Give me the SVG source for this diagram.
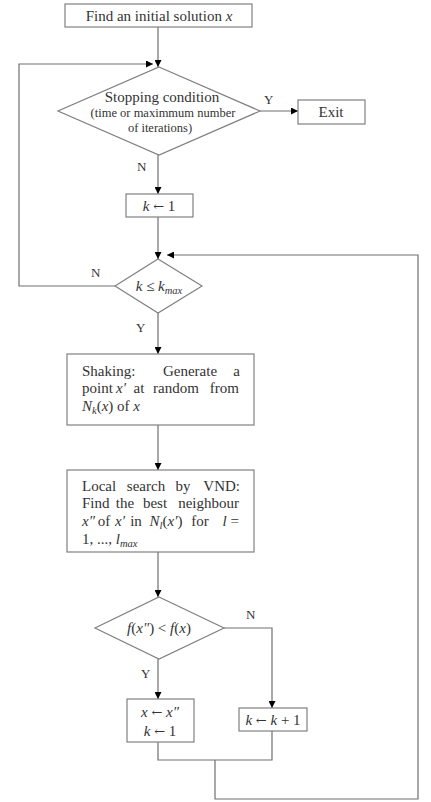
<svg xmlns="http://www.w3.org/2000/svg" width="431" height="802" viewBox="0 0 431 802">
<style>
.box{fill:#fff;stroke:#808080;stroke-width:1.2}
.ln{fill:none;stroke:#707070;stroke-width:1.2}
text{font-family:"Liberation Serif","DejaVu Serif",serif;fill:#333;font-size:15px}
.c{text-anchor:middle}
.e{text-anchor:end}
.s{font-size:12.5px}
.m{font-style:italic}
.lb{font-size:13px}
.sub{font-style:italic;font-size:10.5px}
.ar{font-family:"DejaVu Serif",serif;font-size:13px}
</style>
<defs>
<marker id="ah" viewBox="0 0 10 10" refX="10" refY="5" markerWidth="9" markerHeight="7" markerUnits="userSpaceOnUse" orient="auto">
<path d="M0,0 L10,5 L0,10 z" fill="#000"/>
</marker>
</defs>
<rect width="431" height="802" fill="#fff"/>
<g id="connectors">
<path class="ln" d="M158,27 V67" marker-end="url(#ah)"/>
<path class="ln" d="M115,286 H19 V64 H153" marker-end="url(#ah)"/>
<path class="ln" d="M260,111 H298" marker-end="url(#ah)"/>
<path class="ln" d="M158,155 V194" marker-end="url(#ah)"/>
<path class="ln" d="M158,217 V259" marker-end="url(#ah)"/>
<path class="ln" d="M215,760 V799 H418 V255 H167" marker-end="url(#ah)"/>
<path class="ln" d="M158,313 V354" marker-end="url(#ah)"/>
<path class="ln" d="M158,425 V470" marker-end="url(#ah)"/>
<path class="ln" d="M158,552 V597" marker-end="url(#ah)"/>
<path class="ln" d="M224,628 H272 V708" marker-end="url(#ah)"/>
<path class="ln" d="M158,659 V699" marker-end="url(#ah)"/>
<path class="ln" d="M158,742 V760 H272 V731"/>
<text class="lb" x="264" y="104">Y</text>
<text class="lb" x="137" y="171">N</text>
<text class="lb" x="91" y="277">N</text>
<text class="lb" x="136" y="332">Y</text>
<text class="lb" x="246" y="619">N</text>
<text class="lb" x="141" y="678">Y</text>
</g>
<g id="start">
<rect class="box" x="65" y="4" width="187" height="23"/>
<text class="c" x="159" y="21">Find an initial solution <tspan class="m">x</tspan></text>
</g>
<g id="stop">
<polygon class="box" points="159,67 260,111 159,155 58,111"/>
<text class="c" x="162" y="102" font-size="13.5">Stopping condition</text>
<text class="c s" x="163" y="117">(time or maximmum number</text>
<text class="c s" x="160" y="132">of iterations)</text>
</g>
<g id="exit">
<rect class="box" x="298" y="100" width="67" height="24"/>
<text class="c" x="331" y="117">Exit</text>
</g>
<g id="init-k">
<rect class="box" x="126" y="194" width="67" height="23"/>
<text class="c" x="159" y="211"><tspan class="m">k</tspan> <tspan class="ar">←</tspan> 1</text>
</g>
<g id="kcheck">
<polygon class="box" points="158,259 202,286 158,313 115,286"/>
<text class="c" x="159" y="291"><tspan class="m">k</tspan> ≤ <tspan class="m">k</tspan><tspan class="sub" dy="3">max</tspan></text>
</g>
<g id="shaking">
<rect class="box" x="67" y="354" width="187" height="71"/>
<text x="82" y="376">Shaking:</text>
<text class="c" x="190" y="376">Generate</text>
<text class="e" x="240" y="376">a</text>
<text x="82" y="393">point</text>
<text class="c m" x="121" y="393">x′</text>
<text class="c" x="139" y="393">at</text>
<text class="c" x="176" y="393">random</text>
<text class="e" x="239" y="393">from</text>
<text x="82" y="411"><tspan class="m">N</tspan><tspan class="sub" dy="3">k</tspan><tspan dy="-3">(</tspan><tspan class="m">x</tspan>) of <tspan class="m">x</tspan></text>
</g>
<g id="localsearch">
<rect class="box" x="67" y="470" width="187" height="82"/>
<text x="82" y="491">Local</text>
<text class="c" x="146" y="491">search</text>
<text class="c" x="183" y="491">by</text>
<text class="e" x="240" y="491">VND:</text>
<text x="82" y="508">Find</text>
<text class="c" x="125" y="508">the</text>
<text class="c" x="155" y="508">best</text>
<text class="e" x="239" y="508">neighbour</text>
<text x="82" y="526" class="m">x″</text>
<text class="c" x="104" y="526">of</text>
<text class="c m" x="120" y="526">x′</text>
<text class="c" x="136" y="526">in</text>
<text class="c" x="166" y="526"><tspan class="m">N</tspan><tspan class="sub" dy="3">l</tspan><tspan dy="-3">(</tspan><tspan class="m">x′</tspan>)</text>
<text class="c" x="200" y="526">for</text>
<text class="e" x="239" y="526"><tspan class="m">l</tspan> =</text>
<text x="82" y="544">1, ..., <tspan class="m">l</tspan><tspan class="sub" dy="3">max</tspan></text>
</g>
<g id="improve">
<polygon class="box" points="159,597 224,628 159,659 95,628"/>
<text class="c" x="159" y="633"><tspan class="m">f</tspan>(<tspan class="m">x″</tspan>) &lt; <tspan class="m">f</tspan>(<tspan class="m">x</tspan>)</text>
</g>
<g id="accept">
<rect class="box" x="127" y="699" width="67" height="43"/>
<text class="c" x="160" y="717"><tspan class="m">x</tspan> <tspan class="ar">←</tspan> <tspan class="m">x″</tspan></text>
<text class="c" x="160" y="736"><tspan class="m">k</tspan> <tspan class="ar">←</tspan> 1</text>
</g>
<g id="next-k">
<rect class="box" x="239" y="708" width="68" height="23"/>
<text class="c" x="273" y="725"><tspan class="m">k</tspan> <tspan class="ar">←</tspan> <tspan class="m">k</tspan> + 1</text>
</g>
</svg>
